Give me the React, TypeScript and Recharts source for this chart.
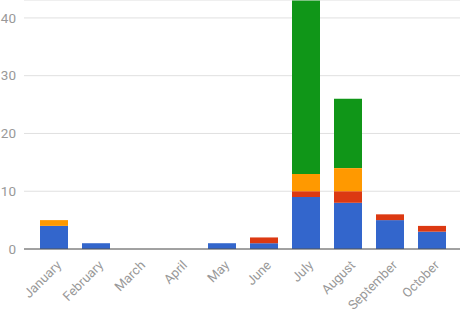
import { Bar, BarChart, CartesianGrid, XAxis, YAxis } from "recharts";

const months = [
  "January",
  "February",
  "March",
  "April",
  "May",
  "June",
  "July",
  "August",
  "September",
  "October",
];
const blue = [4, 1, 0, 0, 1, 1, 9, 8, 5, 3];
const red = [0, 0, 0, 0, 0, 1, 1, 2, 1, 1];
const orange = [1, 0, 0, 0, 0, 0, 3, 4, 0, 0];
const green = [0, 0, 0, 0, 0, 0, 30, 12, 0, 0];
const yTicks = [0, 10, 20, 30, 40];

const data = months.map((name, i) => ({
  name,
  blue: blue[i],
  red: red[i],
  orange: orange[i],
  green: green[i],
}));

const MonthTick = (props: any) => {
  const { x, y, payload } = props;
  return (
    <g transform={`translate(${x + 8},${y + 9})`}>
      <text
        textAnchor="end"
        transform="rotate(-45)"
        fill="#999999"
        fontSize={13}
        fontFamily="Roboto, Arial, sans-serif"
      >
        {payload.value}
      </text>
    </g>
  );
};

export default function App() {
  return (
    <div style={{ position: "fixed", left: 0, top: 0, background: "#fff" }}>
      <BarChart
        width={462}
        height={313}
        data={data}
        margin={{ top: 0, right: 2, bottom: 0, left: 0 }}
        barSize={28}
      >
        <CartesianGrid vertical={false} stroke="#e0e0e0" />
        <XAxis
          dataKey="name"
          interval={0}
          height={64}
          tickLine={false}
          axisLine={{ stroke: "#555555" }}
          padding={{ left: 9, right: 7 }}
          tick={<MonthTick />}
        />
        <YAxis
          width={24}
          domain={[0, 43.1]}
          ticks={yTicks}
          tickLine={false}
          axisLine={false}
          tick={{
            fill: "#999999",
            fontSize: 13.5,
            fontFamily: "Roboto, Arial, sans-serif",
          }}
        />
        <Bar dataKey="blue" stackId="a" fill="#3366cc" isAnimationActive={false} />
        <Bar dataKey="red" stackId="a" fill="#dc3912" isAnimationActive={false} />
        <Bar dataKey="orange" stackId="a" fill="#ff9900" isAnimationActive={false} />
        <Bar dataKey="green" stackId="a" fill="#109618" isAnimationActive={false} />
      </BarChart>
    </div>
  );
}
